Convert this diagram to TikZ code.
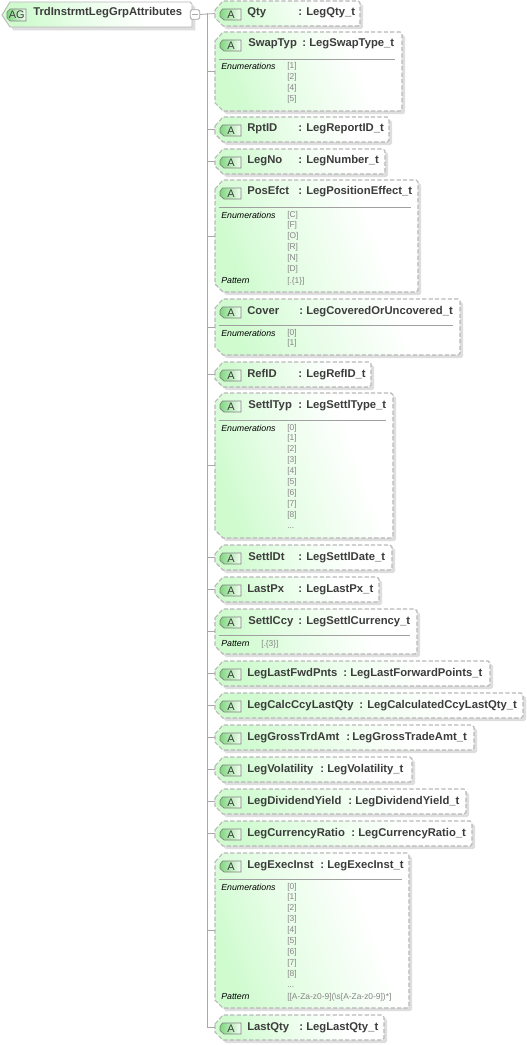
\documentclass[tikz,border=0pt]{standalone}
\usepackage{fontspec}
\setmainfont{Liberation Sans}
\usetikzlibrary{fit}
\definecolor{bordergrey}{HTML}{B8B8B8}
\definecolor{shadowgrey}{HTML}{DEDEDE}
\definecolor{treegrey}{HTML}{A8A8A8}
\definecolor{titlecol}{HTML}{3C3C3C}
\definecolor{valcol}{HTML}{858585}
\definecolor{ruleline}{HTML}{A0A0A0}
\definecolor{boxgreen}{HTML}{CFFBCF}
\definecolor{boxmid}{HTML}{E6FDE6}
\definecolor{icongreen}{HTML}{7FD67F}
\definecolor{iconlight}{HTML}{F4FFF4}
\pgfdeclarehorizontalshading{boxgrad}{100bp}{color(0bp)=(boxgreen); color(25bp)=(boxgreen); color(42bp)=(boxmid); color(66bp)=(white); color(100bp)=(white)}
\pgfdeclarehorizontalshading{icongrad}{100bp}{color(0bp)=(icongreen); color(25bp)=(icongreen); color(75bp)=(iconlight); color(100bp)=(iconlight)}
\tikzset{
  x=0.75pt,y=-0.75pt,
  tree/.style={draw=treegrey,line width=0.6pt},
  dashborder/.style={draw=bordergrey,line width=0.8pt,dash pattern=on 3.2pt off 1.6pt},
  shadowfill/.style={fill=shadowgrey,draw=none},
  boxfill/.style={shading=boxgrad,shading angle=20},
  iconfill/.style={shading=icongrad},
  titletext/.style={anchor=base west,inner sep=0pt,font=\bfseries\fontsize{8.45}{10}\selectfont,text=titlecol},
  labeltext/.style={anchor=base west,inner sep=0pt,font=\itshape\fontsize{6.6}{8}\selectfont,text=black},
  valtext/.style={anchor=base west,inner sep=0pt,font=\fontsize{6.3}{8}\selectfont,text=valcol},
  icontext/.style={inner sep=0pt,font=\fontsize{8.2}{10}\selectfont,text=titlecol},
  boxanchor/.style={inner sep=0pt,draw=none}
}
% octagon path of an attribute: top, bottom, right
\newcommand{\attrpath}[3]{(215,{#1+9}) -- (223,#1) -- ({#3-2},#1) -- (#3,{#1+2}) -- (#3,{#2-2}) -- ({#3-2},#2) -- (223,#2) -- (215,{#2-8}) -- cycle}
\newcommand{\attrbox}[8]{% id top bot right name namex colonx typex
  \path[shadowfill,xshift=2.4pt,yshift=-2.4pt] \attrpath{#2}{#3}{#4};
  \shade[boxfill] \attrpath{#2}{#3}{#4};
  \path[dashborder] \attrpath{#2}{#3}{#4};
  \node[fit={(215,#2)(#4,#3)},boxanchor] (#1) {};
  \shade[iconfill] (222.5,{#2+8}) -- (241,{#2+8}) -- (241,{#2+19}) -- (224,{#2+19}) -- (220,{#2+15.5}) -- (220,{#2+11.5}) -- cycle;
  \draw[draw=gray,line width=0.5pt] (222.5,{#2+8}) -- (241,{#2+8}) -- (241,{#2+19}) -- (224,{#2+19}) -- (220,{#2+15.5}) -- (220,{#2+11.5}) -- cycle;
  \node[icontext] (#1-icon) at (231,{#2+13.7}) {A};
  \node[titletext] (#1-name) at (#6,{#2+15}) {#5};
  \node[titletext] (#1-colon) at (#7,{#2+15}) {:};
}
\newcommand{\typetext}[4]{\node[titletext] (#1-type) at (#2,{#3+15}) {#4};}
\newcommand{\seprule}[3]{\draw[draw=ruleline,line width=0.6pt] (219,#2) -- ({#3-7},#2);}
\newcommand{\enumblock}[3]{% id baseline(top entry) list
  \node[labeltext] (#1-enumlab) at (221,{#2+1}) {Enumerations};
  \foreach \v [count=\i] in {#3} {
    \node[valtext] (#1-e\i) at (287,{#2+(\i-1)*10.9}) {[\v]};
  }
}
\begin{document}
\begin{tikzpicture}
\useasboundingbox (0,0) rectangle (527,1045);
% root group
\path[shadowfill,xshift=2.6pt,yshift=-2.6pt] (2,15) -- (10,2) -- (190,2) -- (192,4) -- (192,27) -- (10,27) -- cycle;
\shade[boxfill] (2,15) -- (10,2) -- (190,2) -- (192,4) -- (192,27) -- (10,27) -- cycle;
\draw[draw=bordergrey,line width=0.7pt] (2,15) -- (10,2) -- (190,2) -- (192,4) -- (192,27) -- (10,27) -- cycle;
\node[fit={(2,2)(192,27)},boxanchor] (root) {};
\shade[iconfill] (10,9) -- (26,9) -- (26,21) -- (10,21) -- (7,18) -- (7,12) -- cycle;
\draw[draw=gray,line width=0.5pt] (10,9) -- (26,9) -- (26,21) -- (10,21) -- (7,18) -- (7,12) -- cycle;
\node[icontext] (root-icon) at (16.8,15.2) {AG};
\node[titletext] (root-name) at (33,16) {TrdInstrmtLegGrpAttributes};
\node[draw=treegrey,fill=white,rounded corners=1pt,line width=0.6pt,inner sep=0pt,minimum width=7pt,minimum height=7pt] (collapse) at (195,14.5) {};
\draw[draw=treegrey,line width=0.6pt] (192,14.5) -- (198,14.5);

\attrbox{Qty}{1}{26}{360}{Qty}{247}{298}{306}
\typetext{Qty}{306}{1}{LegQty\_t}
\attrbox{SwapTyp}{32}{111}{402}{SwapTyp}{248}{302}{309}
\typetext{SwapTyp}{309}{32}{LegSwapType\_t}
\seprule{SwapTyp}{59}{402}
\enumblock{SwapTyp}{69}{1,2,4,5}
\attrbox{RptID}{117}{142}{389}{RptID}{247}{298}{306}
\typetext{RptID}{306}{117}{LegReportID\_t}
\attrbox{LegNo}{149}{174}{385}{LegNo}{247}{298}{306}
\typetext{LegNo}{306}{149}{LegNumber\_t}
\attrbox{PosEfct}{180}{292}{418}{PosEfct}{247}{298}{306}
\typetext{PosEfct}{306}{180}{LegPositionEffect\_t}
\seprule{PosEfct}{207}{418}
\enumblock{PosEfct}{217}{C,F,O,R,N,D}
\node[labeltext] (PosEfct-patlab) at (221,283) {Pattern};
\node[valtext] (PosEfct-pat) at (287,283) {[.\{1\}]};
\attrbox{Cover}{299}{355}{460}{Cover}{247}{299}{306}
\typetext{Cover}{306}{299}{LegCoveredOrUncovered\_t}
\seprule{Cover}{325}{460}
\enumblock{Cover}{335}{0,1}
\attrbox{RefID}{362}{387}{371}{RefID}{247}{298}{306}
\typetext{RefID}{306}{362}{LegRefID\_t}
\attrbox{SettlTyp}{393}{538}{393}{SettlTyp}{248}{298}{306}
\typetext{SettlTyp}{306}{393}{LegSettlType\_t}
\seprule{SettlTyp}{420}{393}
\enumblock{SettlTyp}{430}{0,1,2,3,4,5,6,7,8}
\node[valtext] (SettlTyp-more) at (287,528) {...};
\attrbox{SettlDt}{545}{570}{392}{SettlDt}{248}{298}{306}
\typetext{SettlDt}{306}{545}{LegSettlDate\_t}
\attrbox{LastPx}{577}{602}{379}{LastPx}{247}{298}{306}
\typetext{LastPx}{306}{577}{LegLastPx\_t}
\attrbox{SettlCcy}{609}{654}{417}{SettlCcy}{248}{298}{306}
\typetext{SettlCcy}{306}{609}{LegSettlCurrency\_t}
\seprule{SettlCcy}{635}{417}
\node[labeltext] (SettlCcy-patlab) at (221,646) {Pattern};
\node[valtext] (SettlCcy-pat) at (261,646) {[.\{3\}]};
\attrbox{LegLastFwdPnts}{661}{686}{490}{LegLastFwdPnts}{247}{343}{350}
\typetext{LegLastFwdPnts}{350}{661}{LegLastForwardPoints\_t}
\attrbox{LegCalcCcyLastQty}{693}{718}{523}{LegCalcCcyLastQty}{247}{359}{367}
\typetext{LegCalcCcyLastQty}{367}{693}{LegCalculatedCcyLastQty\_t}
\attrbox{LegGrossTrdAmt}{725}{750}{474}{LegGrossTrdAmt}{247}{346}{352}
\typetext{LegGrossTrdAmt}{352}{725}{LegGrossTradeAmt\_t}
\attrbox{LegVolatility}{757}{782}{412}{LegVolatility}{247}{320}{327}
\typetext{LegVolatility}{327}{757}{LegVolatility\_t}
\attrbox{LegDividendYield}{789}{814}{466}{LegDividendYield}{247}{348}{355}
\typetext{LegDividendYield}{355}{789}{LegDividendYield\_t}
\attrbox{LegCurrencyRatio}{821}{846}{472}{LegCurrencyRatio}{247}{351}{358}
\typetext{LegCurrencyRatio}{358}{821}{LegCurrencyRatio\_t}
\attrbox{LegExecInst}{853}{1008}{409}{LegExecInst}{247}{320}{327}
\typetext{LegExecInst}{327}{853}{LegExecInst\_t}
\seprule{LegExecInst}{879}{409}
\enumblock{LegExecInst}{889}{0,1,2,3,4,5,6,7,8}
\node[valtext] (LegExecInst-more) at (287,987) {...};
\node[labeltext] (LegExecInst-patlab) at (221,999) {Pattern};
\node[valtext] (LegExecInst-pat) at (287,999) {[[A-Za-z0-9](\textbackslash s[A-Za-z0-9])*]};
\attrbox{LastQty}{1015}{1040}{384}{LastQty}{247}{299}{306}
\typetext{LastQty}{306}{1015}{LegLastQty\_t}

% tree connectors
\coordinate (trunkx) at (207,0);
\draw[tree] (collapse.east) -- (Qty.west);
\draw[tree] (trunkx |- Qty.west) -- (trunkx |- LastQty.west) -- (LastQty.west);
\foreach \n in {SwapTyp,RptID,LegNo,PosEfct,Cover,RefID,SettlTyp,SettlDt,LastPx,SettlCcy,LegLastFwdPnts,LegCalcCcyLastQty,LegGrossTrdAmt,LegVolatility,LegDividendYield,LegCurrencyRatio,LegExecInst}
  \draw[tree] (trunkx |- \n.west) -- (\n.west);
\end{tikzpicture}
\end{document}
